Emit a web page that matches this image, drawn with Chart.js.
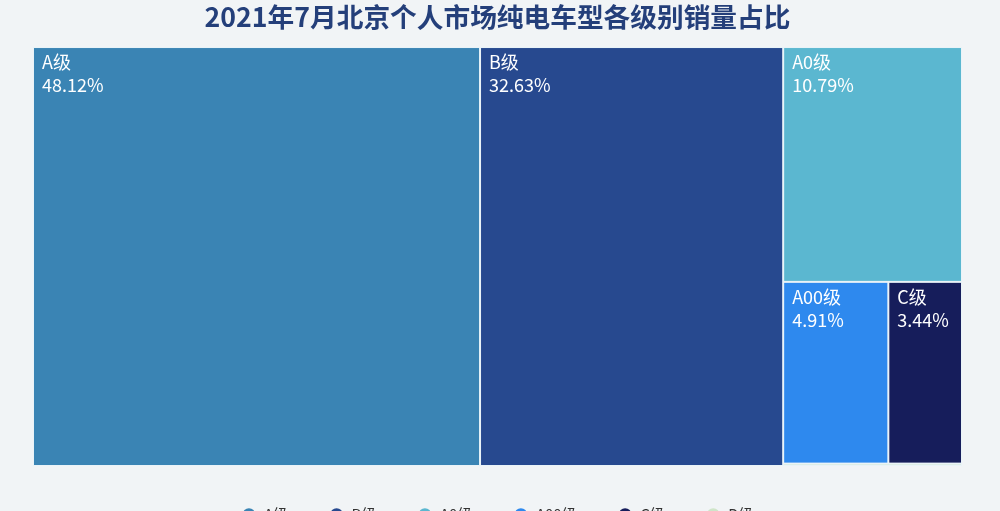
<!DOCTYPE html>
<html>
<head>
<meta charset="utf-8">
<script src="https://cdn.jsdelivr.net/npm/chart.js@4/dist/chart.umd.min.js"></script>
<style>
    html, body { margin: 0; padding: 0; background: #f1f4f6; overflow: hidden; }
    #wrap { width: 1000px; height: 532px; position: relative; }
</style>
</head>
<body>
<div id="wrap"><canvas id="grafico"></canvas></div>
<script>
// Dados do gráfico
const categorias = ['A级', 'B级', 'A0级', 'A00级', 'C级', 'D级'];
const participacao = [48.12, 32.63, 10.79, 4.91, 3.44, 0.11];
const cores = ['#3a84b4', '#27498f', '#5bb7d0', '#2e89ee', '#161d5b', '#cfe5c9'];

const RATIO = 0.5 * (1 + Math.sqrt(5));
const FONTE = '"Noto Sans CJK SC", "Noto Sans", sans-serif';

// pior proporção de uma linha (mesma regra do squarify do echarts)
function pior(linha, comprimento, ratio) {
    let areaMax = 0, areaMin = Infinity;
    linha.forEach(n => {
        if (n.area) {
            if (n.area < areaMin) areaMin = n.area;
            if (n.area > areaMax) areaMax = n.area;
        }
    });
    const sq = linha.area * linha.area;
    const f = comprimento * comprimento * ratio;
    return sq ? Math.max(f * areaMax / sq, sq / (f * areaMin)) : Infinity;
}

function posicionar(linha, comprimento, rect, flush, saida) {
    const i0 = comprimento === rect.w ? 0 : 1;
    const i1 = 1 - i0;
    const xy = ['x', 'y'];
    const wh = ['w', 'h'];
    let last = rect[xy[i0]];
    let outro = comprimento ? linha.area / comprimento : 0;
    if (flush || outro > rect[wh[i1]]) outro = rect[wh[i1]];
    linha.forEach((n, k) => {
        const cel = { i: n.i };
        const step = outro ? n.area / outro : 0;
        const resto = rect[xy[i0]] + rect[wh[i0]] - last;
        const mod = (k === linha.length - 1 || resto < step) ? resto : step;
        cel[wh[i1]] = outro;
        cel[wh[i0]] = mod;
        cel[xy[i1]] = rect[xy[i1]];
        cel[xy[i0]] = last;
        last += mod;
        saida.push(cel);
    });
    rect[xy[i1]] += outro;
    rect[wh[i1]] -= outro;
}

function calcularTreemap(valores, W, H) {
    const total = valores.reduce((a, b) => a + b, 0);
    const nos = valores.map((v, i) => ({ i, area: v / total * W * H }))
        .sort((a, b) => b.area - a.area);
    const rect = { x: 0, y: 0, w: W, h: H };
    const saida = [];
    let linha = []; linha.area = 0;
    let melhor = Infinity;
    let comp = Math.min(rect.w, rect.h);
    let k = 0;
    while (k < nos.length) {
        const n = nos[k];
        linha.push(n); linha.area += n.area;
        const s = pior(linha, comp, RATIO);
        if (s <= melhor) {
            k++; melhor = s;
        } else {
            linha.area -= linha.pop().area;
            posicionar(linha, comp, rect, false, saida);
            comp = Math.min(rect.w, rect.h);
            linha = []; linha.area = 0;
            melhor = Infinity;
        }
    }
    if (linha.length) posicionar(linha, comp, rect, true, saida);
    return saida;
}

const treemapPlugin = {
    id: 'treemap',
    afterDatasetsDraw(chart) {
        const xs = chart.scales.x, ys = chart.scales.y;
        const W = xs.getPixelForValue(1) - xs.getPixelForValue(0);
        const H = ys.getPixelForValue(1) - ys.getPixelForValue(0);
        const celulas = calcularTreemap(participacao, W, H);
        const ctx = chart.ctx;
        ctx.save();
        celulas.forEach(c => {
            const x0 = xs.getPixelForValue(c.x / W);
            const x1 = xs.getPixelForValue((c.x + c.w) / W);
            const y0 = ys.getPixelForValue(c.y / H);
            const y1 = ys.getPixelForValue((c.y + c.h) / H);
            ctx.fillStyle = '#e9f3f8';
            ctx.fillRect(x0, y0, x1 - x0, y1 - y0);
            ctx.fillStyle = cores[c.i];
            ctx.fillRect(x0 + 1, y0 + 1, Math.max(x1 - x0 - 2, 0), Math.max(y1 - y0 - 2, 0));
            if (x1 - x0 > 40 && y1 - y0 > 45) {
                ctx.fillStyle = '#ffffff';
                ctx.font = '18px ' + FONTE;
                ctx.textBaseline = 'middle';
                ctx.textAlign = 'left';
                ctx.fillText(categorias[c.i], x0 + 9, y0 + 15);
                ctx.fillText(participacao[c.i].toFixed(2) + '%', x0 + 9, y0 + 38);
            }
        });
        ctx.restore();
    }
};

new Chart(document.getElementById('grafico'), {
    type: 'scatter',
    data: {
        datasets: categorias.map((nome, i) => ({
            label: nome,
            data: [],
            backgroundColor: cores[i],
            borderColor: cores[i],
            borderWidth: 0,
            pointStyle: 'circle'
        }))
    },
    options: {
        responsive: true,
        maintainAspectRatio: false,
        animation: false,
        layout: { padding: { left: 33, right: 38, top: 0, bottom: 0 } },
        scales: {
            x: { display: false, min: 0, max: 1 },
            y: { display: false, min: 0, max: 1, reverse: true }
        },
        plugins: {
            title: {
                display: true,
                text: '2021年7月北京个人市场纯电车型各级别销量占比',
                color: '#243f7a',
                font: { family: FONTE, size: 26.7, weight: 'bold', lineHeight: 1.2 },
                padding: { top: 1, bottom: 14 }
            },
            legend: {
                position: 'bottom',
                labels: {
                    usePointStyle: true,
                    boxWidth: 15,
                    boxHeight: 9,
                    padding: 41,
                    color: '#333',
                    font: { family: FONTE, size: 15 }
                }
            },
            tooltip: { enabled: false }
        }
    },
    plugins: [treemapPlugin]
});
</script>
</body>
</html>
